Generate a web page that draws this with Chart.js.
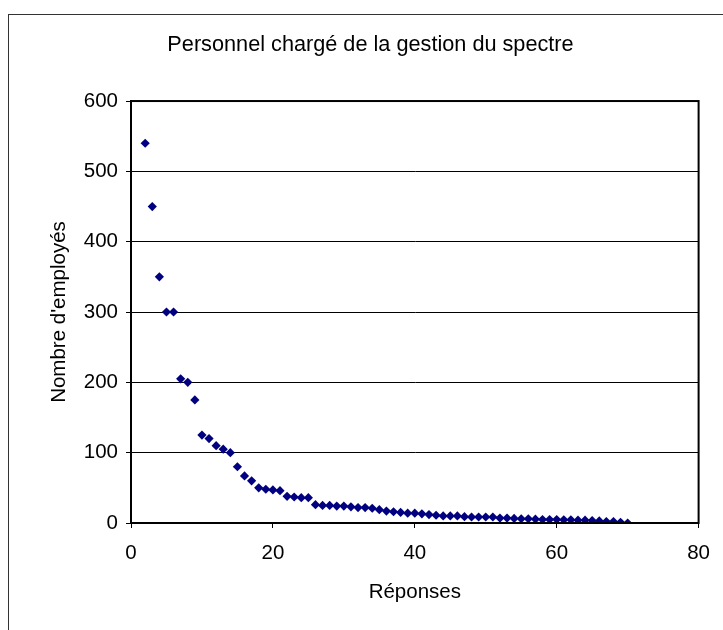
<!DOCTYPE html>
<html>
<head>
<meta charset="utf-8">
<script src="https://cdn.jsdelivr.net/npm/chart.js@4.4.0/dist/chart.umd.min.js"></script>
<style>
  html, body { margin: 0; padding: 0; background: #fff; overflow: hidden; }
  #wrap { position: relative; width: 723px; height: 630px; }
  #frame {
    position: absolute; left: 8px; top: 14px;
    width: 800px; height: 700px;
    border: 1px solid #333;
  }
  #chart { position: absolute; left: 0; top: 0; }
</style>
</head>
<body>
<div id="wrap">
  <div id="frame"></div>
  <canvas id="chart" width="723" height="630"></canvas>
</div>
<script>
// -------------------- DONNÉES --------------------
const chartTitle = "Personnel chargé de la gestion du spectre";
const xTitle = "Réponses";
const yTitle = "Nombre d'employés";

// numéro de réponse (axe x)
const reponses = [
  2, 3, 4, 5, 6, 7, 8, 9, 10, 11,
  12, 13, 14, 15, 16, 17, 18, 19, 20, 21,
  22, 23, 24, 25, 26, 27, 28, 29, 30, 31,
  32, 33, 34, 35, 36, 37, 38, 39, 40, 41,
  42, 43, 44, 45, 46, 47, 48, 49, 50, 51,
  52, 53, 54, 55, 56, 57, 58, 59, 60, 61,
  62, 63, 64, 65, 66, 67, 68, 69, 70
];

// nombre d'employés
const employes = [
  540, 450, 350, 300, 300, 205, 200, 175, 125, 120,
  110, 105, 100, 80, 67, 60, 50, 48, 47, 46,
  38, 37, 36, 36, 26, 25, 25, 24, 24, 23,
  22, 22, 21, 19, 17, 16, 15, 14, 14, 13,
  12, 11, 10, 10, 10, 9, 8.5, 8.5, 8.5, 8.5,
  7, 7, 6.5, 6, 6, 5.5, 5, 5, 5, 4.5,
  4.5, 4, 4, 3.5, 3, 2, 2, 1, 0
];

const xTicks = [0, 20, 40, 60, 80];
const yTicks = [0, 100, 200, 300, 400, 500, 600];

const points = reponses.map((x, i) => ({ x: x, y: employes[i] }));

// -------------------- CADRE ZONE DE TRACÉ --------------------
const plotBorder = {
  id: "plotBorder",
  afterDraw(chart) {
    const { ctx, chartArea: a } = chart;
    ctx.save();
    ctx.strokeStyle = "#000";
    ctx.lineWidth = 2;
    ctx.strokeRect(a.left, a.top, a.right - a.left, a.bottom - a.top);
    ctx.restore();
  }
};

const fontFamily = "'Liberation Sans', Arial, sans-serif";

new Chart(document.getElementById("chart"), {
  type: "scatter",
  data: {
    datasets: [{
      label: yTitle,
      data: points,
      backgroundColor: "#000080",
      borderColor: "#000080",
      pointStyle: "rectRot",
      pointRadius: 4.6,
      pointBorderWidth: 0
    }]
  },
  options: {
    responsive: false,
    animation: false,
    layout: { padding: { left: 40, right: 22, top: 0, bottom: 0 } },
    plugins: {
      legend: { display: false },
      tooltip: { enabled: false },
      title: {
        display: true,
        text: chartTitle,
        color: "#000",
        font: { family: fontFamily, size: 21.7, weight: "normal" },
        padding: { top: 32, bottom: 43 }
      }
    },
    scales: {
      x: {
        type: "linear",
        min: 0,
        max: 80,
        afterFit: (s) => { s.height = 107; },
        afterBuildTicks: (s) => { s.ticks = xTicks.map(v => ({ value: v })); },
        grid: { drawOnChartArea: false, drawTicks: true, tickLength: 5, color: "#000", lineWidth: 1 },
        border: { display: true, color: "#000", width: 2 },
        ticks: { color: "#000", padding: 13, font: { family: fontFamily, size: 20.5 } },
        title: {
          display: true, text: xTitle, color: "#000",
          font: { family: fontFamily, size: 20.5 },
          padding: { top: 0, bottom: 25 }
        }
      },
      y: {
        type: "linear",
        min: 0,
        max: 600,
        afterFit: (s) => { s.width = 91; },
        afterBuildTicks: (s) => { s.ticks = yTicks.map(v => ({ value: v })); },
        grid: { drawOnChartArea: true, drawTicks: true, tickLength: 5, color: "#000", lineWidth: 1 },
        border: { display: true, color: "#000", width: 2 },
        ticks: { color: "#000", padding: 8, font: { family: fontFamily, size: 20.5 } },
        title: {
          display: true, text: yTitle, color: "#000",
          font: { family: fontFamily, size: 20.5 },
          padding: { top: 7, bottom: 0 }
        }
      }
    }
  },
  plugins: [plotBorder]
});
</script>
</body>
</html>
